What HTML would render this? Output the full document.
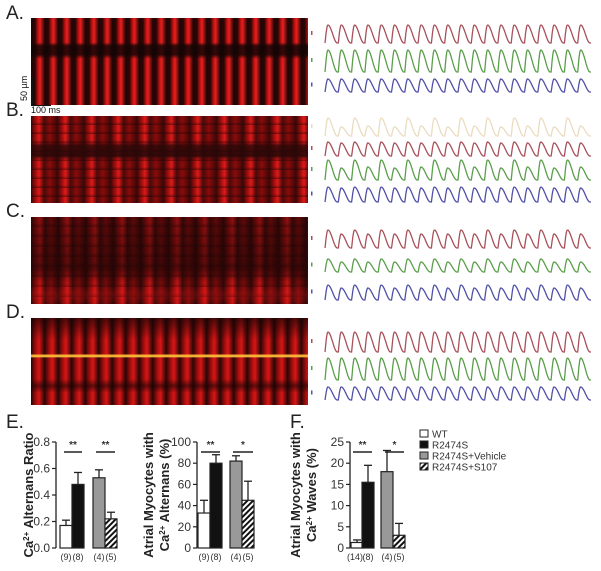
<!DOCTYPE html>
<html><head><meta charset="utf-8"><style>
body{margin:0;background:#fff;width:601px;height:571px;overflow:hidden;position:relative;font-family:"Liberation Sans",sans-serif}
.lab{position:absolute;font-size:19px;color:#222}
.img{position:absolute;left:31px;width:277px;height:87px}
</style></head><body>
<div class="lab" style="left:6px;top:3px">A.</div>
<div class="lab" style="left:6px;top:100px">B.</div>
<div class="lab" style="left:6px;top:201px">C.</div>
<div class="lab" style="left:6px;top:302px">D.</div>
<div class="lab" style="left:6px;top:412px">E.</div>
<div class="lab" style="left:290px;top:412px">F.</div>

<div class="img" style="top:18px;background:
linear-gradient(180deg,transparent 0,transparent 28%,rgba(20,5,5,.85) 32%,rgba(20,5,5,.85) 42%,transparent 47%),
repeating-linear-gradient(90deg,#220505 0,#2a0606 4px,#c01010 7px,#e82020 9px,#300707 13.5px)"></div>
<div class="img" style="top:116px;background:
linear-gradient(180deg,transparent 0,transparent 30%,rgba(40,8,8,.8) 34%,rgba(40,8,8,.9) 46%,transparent 50%),
repeating-linear-gradient(180deg,rgba(0,0,0,0) 0,rgba(0,0,0,0) 6px,rgba(30,5,5,.5) 9px),
repeating-linear-gradient(90deg,#3a0808 0,#a80e0e 5px,#e01a1a 8px,#4a0a0a 13px,#8a0b0b 19px,#3a0808 26.5px)"></div>
<div class="img" style="top:217px;background:
linear-gradient(180deg,rgba(30,5,5,.35) 0,rgba(30,5,5,.65) 60%,transparent 78%,rgba(255,30,30,.2) 90%,transparent 100%),
repeating-linear-gradient(180deg,rgba(0,0,0,0) 0,rgba(0,0,0,0) 6px,rgba(30,5,5,.4) 10px),
repeating-linear-gradient(90deg,#300707 0,#a00e0e 6px,#d01616 9px,#400909 14px,#800b0b 20px,#300707 27.5px)"></div>
<div class="img" style="top:318px;background:
linear-gradient(180deg,rgba(20,4,4,.7) 0,transparent 25%,transparent 41%,#ffb030 43%,#ffd040 44%,transparent 46%,transparent 70%,rgba(20,4,4,.6) 78%,transparent 86%),
repeating-linear-gradient(90deg,#280505 0,#a80e0e 5px,#d81616 8px,#300707 13.5px)"></div>
<div style="position:absolute;left:31px;top:78px;width:2px;height:27px;background:#111"></div>
<div style="position:absolute;left:19px;font-size:9px;color:#111;transform:rotate(-90deg);transform-origin:left top;top:101px">50 µm</div>
<div style="position:absolute;left:31px;top:105px;width:20px;height:1px;background:#111"></div>
<div style="position:absolute;left:31px;top:105px;font-size:9px;color:#111">100 ms</div>

<svg id="tr" width="601" height="571" style="position:absolute;left:0;top:0"></svg>
<svg id="bars" width="601" height="571" style="position:absolute;left:0;top:0">
<defs><pattern id="hatch" width="4" height="4" patternUnits="userSpaceOnUse" patternTransform="rotate(45)"><rect width="4" height="4" fill="#fff"/><rect width="2" height="4" fill="#111"/></pattern></defs>
</svg>
<script>
// trace data: beat amplitudes (px) per trace
const ampA_red=[18,18,18,18,18,18,18,18,18,18,18,18,18,18,18,18,18,18,18,18];
const ampA_green=[22,22,22,22,22,22,22,22,22,22,22,22,22,22,22,22,22,22,22,22];
const ampA_blue=[13,13,13,13,13,13,13,13,13,13,13,13,13,13,13,13,13,13,13,13];
const ampB_cream=[18,9,18,10,18,9,18,10,18,9,18,10,18,9,18,10,18,9,18,10];
const ampB_red=[14,13,14,13,14,13,14,13,14,13,14,13,14,13,14,13,14,13,14,13];
const ampB_green=[20,12,20,13,20,12,20,13,20,12,20,13,20,12,20,13,20,12,20,13];
const ampB_blue=[15,14,15,14,15,14,15,14,15,14,15,14,15,14,15,14,15,14,15,14];
const ampC_red=[18,14,18,14,18,14,18,14,18,14,18,14,18,14,18,14,18,14,18,14];
const ampC_green=[13,10,13,10,13,10,13,10,13,10,13,10,13,10,13,10,13,10,13,10];
const ampC_blue=[15,12,15,12,15,12,15,12,15,12,15,12,15,12,15,12,15,12,15,12];
const ampD_red=[20,20,20,20,20,20,20,20,20,20,20,20,20,20,20,20,20,20,20,20];
const ampD_green=[22,22,22,22,22,22,22,22,22,22,22,22,22,22,22,22,22,22,22,22];
const ampD_blue=[13,13,13,13,13,13,13,13,13,13,13,13,13,13,13,13,13,13,13,13];
const NS='http://www.w3.org/2000/svg';
const tr=document.getElementById('tr');
function trace(amps,base,color,name){
  const x0=325,x1=591,per=(x1-x0)/amps.length;let d='';
  amps.forEach((a,i)=>{
    for(let k=0;k<=24;k++){const f=k/24,x=x0+i*per+f*per;
      let y;
      if(f<0.22)y=base-a*Math.sin(Math.PI/2*f/0.22);
      else{const g=(f-0.22)/0.78;y=base-a*(0.5+0.5*Math.cos(Math.PI*Math.min(1,g*1.1)));}
      d+=(d?'L':'M')+x.toFixed(1)+','+y.toFixed(1);}
  });
  const p=document.createElementNS(NS,'path');
  p.setAttribute('d',d);p.setAttribute('fill','none');p.setAttribute('stroke',color);p.setAttribute('stroke-width','1.3');
  
  
  tr.appendChild(p);
  const m=document.createElementNS(NS,'rect');
  m.setAttribute('x',311);m.setAttribute('y',base-a0(amps)/2-3);m.setAttribute('width',1.5);m.setAttribute('height',4);m.setAttribute('fill',color);
  
  
  tr.appendChild(m);
}
function a0(a){return Math.max(...a);}
const R='#a8505a',G='#5a9e4a',B='#5050a8',C='#eadcc0';
trace(ampA_red,43,R,'trace-a-red');trace(ampA_green,72,G,'trace-a-green');trace(ampA_blue,92,B,'trace-a-blue');
trace(ampB_cream,136,C,'trace-b-cream');trace(ampB_red,156,R,'trace-b-red');trace(ampB_green,180,G,'trace-b-green');trace(ampB_blue,202,B,'trace-b-blue');
trace(ampC_red,248,R,'trace-c-red');trace(ampC_green,272,G,'trace-c-green');trace(ampC_blue,300,B,'trace-c-blue');
trace(ampD_red,352,R,'trace-d-red');trace(ampD_green,380,G,'trace-d-green');trace(ampD_blue,400,B,'trace-d-blue');

// bar chart data
const groups=['WT','R2474S','R2474S+Vehicle','R2474S+S107'];
const nLabels1=['(9)','(8)','(4)','(5)'];
const nLabels3=['(14)','(8)','(4)','(5)'];
const ratioVals=[0.17,0.48,0.53,0.22];
const ratioErr=[0.04,0.09,0.06,0.05];
const ratioTicks=[0,0.2,0.4,0.6,0.8];
const altVals=[33,80,82,45];
const altErr=[12,8,5,18];
const altTicks=[0,20,40,60,80,100];
const waveVals=[1.3,15.5,18,3];
const waveErr=[0.6,4,5,2.8];
const waveTicks=[0,5,10,15,20,25];
const fills=['#fff','#111','#999','url(#hatch)'];
const sv=document.getElementById('bars');
function el(tag,attrs,name,parent){const e=document.createElementNS(NS,tag);for(const k in attrs)e.setAttribute(k,attrs[k]);
  
  
  (parent||sv).appendChild(e);return e;}
function txt(x,y,s,name,extra){const t=el('text',Object.assign({x:x,y:y,'font-size':12,'font-family':'Liberation Sans, sans-serif',fill:'#333'},extra||{}),name);t.textContent=s;return t;}
function chart(id,ax,max,ticks,fmt,vals,errs,nl,xs,sig,ylab){
  const y0=548,y1=442,yS=v=>y0-(v/max)*(y0-y1);
  el('line',{x1:ax,y1:y1,x2:ax,y2:y0,stroke:'#222','stroke-width':1.3},id+'-y-axis');
  ticks.forEach(t=>{el('line',{x1:ax-4,y1:yS(t),x2:ax,y2:yS(t),stroke:'#222','stroke-width':1.2},id+'-tick');
    txt(ax-6,yS(t)+4,fmt(t),id+'-tick-label',{'text-anchor':'end'});});
  vals.forEach((v,i)=>{const x=xs[i],w=12;
    el('line',{x1:x+w/2,y1:yS(v),x2:x+w/2,y2:yS(v+errs[i]),stroke:'#222','stroke-width':1.3},id+'-error-bar');
    el('line',{x1:x+w/2-4,y1:yS(v+errs[i]),x2:x+w/2+4,y2:yS(v+errs[i]),stroke:'#222','stroke-width':1.3},id+'-error-cap');
    el('rect',{x:x,y:yS(v),width:w,height:y0-yS(v),fill:fills[i],stroke:'#222','stroke-width':1.2},id+'-bar-'+i);
    txt(x+w/2+(nl[i].length>3?-2:0),560,nl[i],id+'-n-label',{'text-anchor':'middle','font-size':9});});
  sig.forEach(s=>{el('line',{x1:s[0],y1:y1+10,x2:s[1],y2:y1+10,stroke:'#222','stroke-width':1.5},id+'-sig-line');
    txt((s[0]+s[1])/2,y1+6,s[2],id+'-sig-star',{'text-anchor':'middle','font-size':10,'font-weight':'bold'});});
  ylab.forEach((l,j)=>{const t=el('text',{x:0,y:0,'font-size':13,'font-weight':'bold','font-family':'Liberation Sans, sans-serif',fill:'#222','text-anchor':'middle',transform:`translate(${l[1]},495) rotate(-90)`},id+'-y-axis-title');t.innerHTML=l[0];});
}
chart('ratio',56,0.8,ratioTicks,t=>t.toFixed(1),ratioVals,ratioErr,nLabels1,[60,72,93,105],[[64,82,'**'],[96,115,'**']],[['Ca<tspan baseline-shift="super" font-size="8">2+</tspan> Alternans Ratio',33]]);
chart('alternans',197,100,altTicks,t=>t,altVals,altErr,nLabels1,[198,210,230,242],[[201,220,'**'],[233,253,'*']],[['Atrial Myocytes with',153],['Ca<tspan baseline-shift="super" font-size="8">2+</tspan> Alternans (%)',169]]);
chart('waves',350,25,waveTicks,t=>t,waveVals,waveErr,nLabels3,[351,362,381,393],[[353,372,'**'],[385,404,'*']],[['Atrial Myocytes with',300],['Ca<tspan baseline-shift="super" font-size="8">2+</tspan> Waves (%)',316]]);
groups.forEach((g,i)=>{const y=430+i*11;
  el('rect',{x:420,y:y,width:8,height:7,fill:fills[i],stroke:'#222','stroke-width':1},'legend-swatch-'+i);
  txt(432,y+7.5,g,'legend-entry',{'font-size':10});});
</script>
</body></html>
